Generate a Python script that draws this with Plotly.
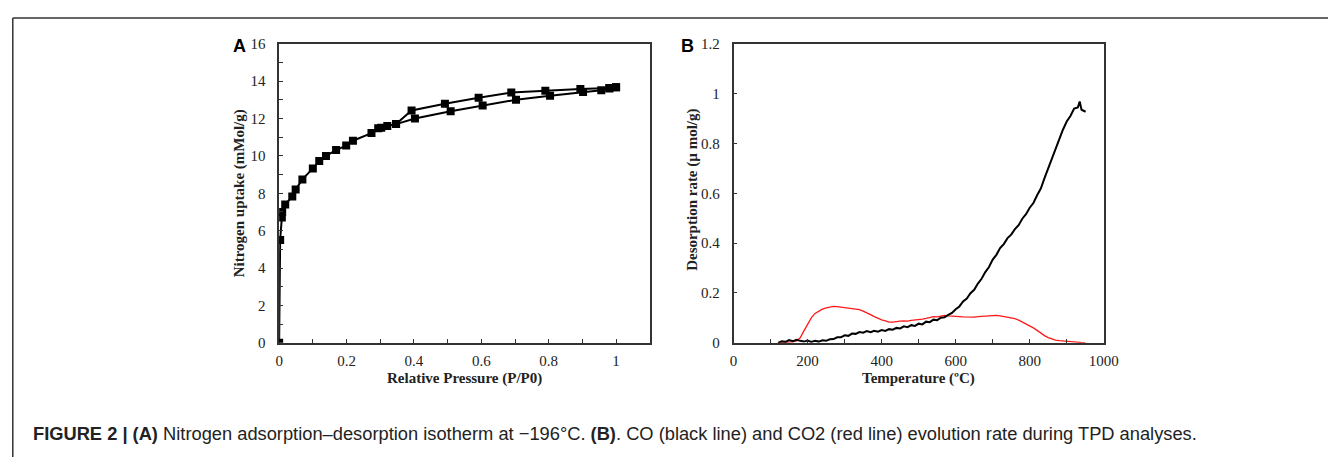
import plotly.graph_objects as go

# ---- Panel A: N2 isotherm ----
ads_p = [0.0, 0.003, 0.008, 0.009, 0.018, 0.039, 0.049, 0.069, 0.100, 0.119, 0.139, 0.169,
         0.199, 0.219, 0.274, 0.294, 0.303, 0.321, 0.347, 0.403, 0.509, 0.604, 0.703,
         0.804, 0.902, 0.956, 0.980, 1.000]
ads_n = [0.0, 5.5, 6.7, 7.0, 7.4, 7.83, 8.2, 8.74, 9.33, 9.72, 10.0, 10.31,
         10.55, 10.81, 11.22, 11.48, 11.5, 11.6, 11.7, 12.0, 12.39, 12.7, 13.0,
         13.22, 13.42, 13.51, 13.6, 13.67]
des_p = [1.000, 0.980, 0.894, 0.790, 0.689, 0.592, 0.492, 0.393, 0.347]
des_n = [13.67, 13.63, 13.58, 13.49, 13.39, 13.11, 12.79, 12.43, 11.7]

# ---- Panel B: TPD ----
co_t = [120, 130, 140, 150, 160, 170, 180, 190, 200, 210, 220, 230, 240, 250, 260, 270, 280, 290,
        300, 310, 320, 330, 340, 350, 360, 370, 380, 390, 400, 410, 420, 430, 440, 450, 460, 470,
        480, 490, 500, 510, 520, 530, 540, 550, 560, 570, 580, 590, 600, 610, 620, 630, 640, 650,
        660, 670, 680, 690, 700, 710, 720, 730, 740, 750, 760, 770, 780, 790, 800, 810, 820, 830,
        840, 850, 860, 870, 880, 890, 900, 910, 920, 930, 935, 940, 945, 951]
co_r = [0.000, 0.006, 0.004, 0.011, 0.007, 0.012, 0.008, 0.005, 0.009, 0.004, 0.008, 0.005,
        0.010, 0.008, 0.014, 0.015, 0.022, 0.022, 0.030, 0.028, 0.037, 0.036, 0.043, 0.041,
        0.047, 0.043, 0.048, 0.045, 0.051, 0.048, 0.055, 0.053, 0.060, 0.058, 0.066, 0.063,
        0.071, 0.068, 0.077, 0.074, 0.085, 0.083, 0.093, 0.091, 0.101, 0.103, 0.112, 0.120,
        0.135, 0.146, 0.166, 0.178, 0.199, 0.213, 0.238, 0.257, 0.284, 0.304, 0.334, 0.353,
        0.380, 0.396, 0.420, 0.434, 0.456, 0.472, 0.498, 0.516, 0.542, 0.561, 0.592, 0.619,
        0.661, 0.698, 0.740, 0.776, 0.817, 0.856, 0.888, 0.910, 0.940, 0.944, 0.968, 0.935,
        0.932, 0.927]
co2_t = [120, 130, 140, 150, 160, 170, 180, 190, 200, 210, 220, 230, 240, 250, 260, 270, 280, 290,
         300, 310, 320, 330, 340, 350, 360, 370, 380, 390, 400, 410, 420, 430, 440, 450, 460, 470,
         480, 490, 500, 510, 520, 530, 540, 550, 560, 570, 580, 590, 600, 610, 620, 630, 640, 650,
         660, 670, 680, 690, 700, 710, 720, 730, 740, 750, 760, 770, 780, 790, 800, 810, 820, 830,
         840, 850, 860, 870, 880, 890, 900, 910, 920, 930, 940, 951]
co2_r = [0.000, 0.001, 0.000, 0.002, 0.004, 0.008, 0.020, 0.048, 0.075, 0.100, 0.118, 0.128,
         0.135, 0.140, 0.143, 0.146, 0.145, 0.143, 0.140, 0.139, 0.137, 0.134, 0.133, 0.127,
         0.121, 0.113, 0.105, 0.098, 0.092, 0.088, 0.083, 0.083, 0.086, 0.087, 0.088, 0.087,
         0.090, 0.091, 0.093, 0.095, 0.098, 0.101, 0.105, 0.104, 0.107, 0.110, 0.108, 0.106,
         0.107, 0.105, 0.104, 0.103, 0.104, 0.103, 0.105, 0.106, 0.107, 0.109, 0.108, 0.110,
         0.108, 0.106, 0.104, 0.102, 0.097, 0.091, 0.084, 0.076, 0.069, 0.060, 0.050, 0.039,
         0.029, 0.021, 0.015, 0.011, 0.009, 0.008, 0.006, 0.005, 0.003, 0.002, 0.001, 0.000]

# page body has an 8px default margin: size the figure to fit and offset coordinates
OFF = 8
W, H = 1343 - OFF, 465 - OFF
def px(x): return (x - OFF) / W
def py(y): return (H - (y - OFF)) / H

SERIF = "Liberation Serif, Times New Roman, serif"
SANS = "Liberation Sans, Arial, Helvetica, sans-serif"
AX = "#333333"

fig = go.Figure()
fig.add_trace(go.Scatter(x=ads_p, y=ads_n, mode="lines+markers", xaxis="x", yaxis="y",
                         line=dict(color="black", width=2),
                         marker=dict(symbol="square", size=8, color="black"), showlegend=False))
fig.add_trace(go.Scatter(x=des_p, y=des_n, mode="lines+markers", xaxis="x", yaxis="y",
                         line=dict(color="black", width=2),
                         marker=dict(symbol="square", size=8, color="black"), showlegend=False))
fig.add_trace(go.Scatter(x=co2_t, y=co2_r, mode="lines", xaxis="x2", yaxis="y2",
                         line=dict(color="#ff1a1a", width=1.3), showlegend=False))
fig.add_trace(go.Scatter(x=co_t, y=co_r, mode="lines", xaxis="x2", yaxis="y2",
                         line=dict(color="black", width=2), showlegend=False))

ydom = [py(346.7), py(36.7)]
common = dict(showline=True, linecolor=AX, linewidth=1.5, mirror=True, showgrid=False,
              zeroline=False, ticks="inside", ticklen=4, tickcolor=AX, tickwidth=1,
              tickfont=dict(family=SERIF, size=15, color="#222"))

fig.update_layout(
    width=W, height=H, margin=dict(l=0, r=0, t=0, b=0),
    paper_bgcolor="white", plot_bgcolor="white",
    xaxis=dict(domain=[px(279), px(655)], range=[0, 1.1], dtick=0.2, anchor="y",
               ticklabelstandoff=3,
               minor=dict(ticks="inside", dtick=0.1, ticklen=4, tickcolor=AX), **common),
    yaxis=dict(domain=ydom, range=[0, 16], dtick=2, anchor="x", ticklabelstandoff=9,
               minor=dict(ticks="inside", dtick=1, ticklen=4, tickcolor=AX), **common),
    xaxis2=dict(domain=[px(740), px(1115.5)], range=[0, 1000], dtick=200, anchor="y2",
                ticklabelstandoff=3,
                minor=dict(ticks="inside", dtick=100, ticklen=4, tickcolor=AX), **common),
    yaxis2=dict(domain=ydom, range=[0, 1.2], dtick=0.2, anchor="x2", ticklabelstandoff=9,
                **common),
)

anns = [
    dict(x=px(467), y=py(384), text="<b>Relative Pressure (P/P0)</b>", font=dict(family=SERIF, size=15, color="#222")),
    dict(x=px(927.5), y=py(384), text="<b>Temperature (ºC)</b>", font=dict(family=SERIF, size=15, color="#222")),
    dict(x=px(239), y=py(192), text="<b>Nitrogen uptake (mMol/g)</b>", textangle=-90, font=dict(family=SERIF, size=15, color="#222")),
    dict(x=px(699), y=py(188), text="<b>Desorption rate (µ mol/g)</b>", textangle=-90, font=dict(family=SERIF, size=15, color="#222")),
    dict(x=px(238.5), y=py(39.5), text="<b>A</b>", font=dict(family=SANS, size=18, color="black")),
    dict(x=px(693.5), y=py(39.5), text="<b>B</b>", font=dict(family=SANS, size=18, color="black")),
    dict(x=px(27), y=py(441), xanchor="left", text="<b>FIGURE 2 | (A)</b> Nitrogen adsorption–desorption isotherm at −196°C. <b>(B)</b>. CO (black line) and CO2 (red line) evolution rate during TPD analyses.",
         font=dict(family=SANS, size=18.3, color="#222")),
]
for a in anns:
    a.setdefault("xanchor", "center")
    a.update(xref="paper", yref="paper", yanchor="middle", showarrow=False)
fig.update_layout(annotations=anns)

fig.update_layout(shapes=[
    dict(type="line", xref="paper", yref="paper", x0=px(8.8), x1=1, y0=py(10), y1=py(10),
         line=dict(color="#333", width=1.5)),
    dict(type="line", xref="paper", yref="paper", x0=px(8.8), x1=px(8.8), y0=0, y1=py(10),
         line=dict(color="#333", width=1.5)),
])

fig.write_html("out.html")
